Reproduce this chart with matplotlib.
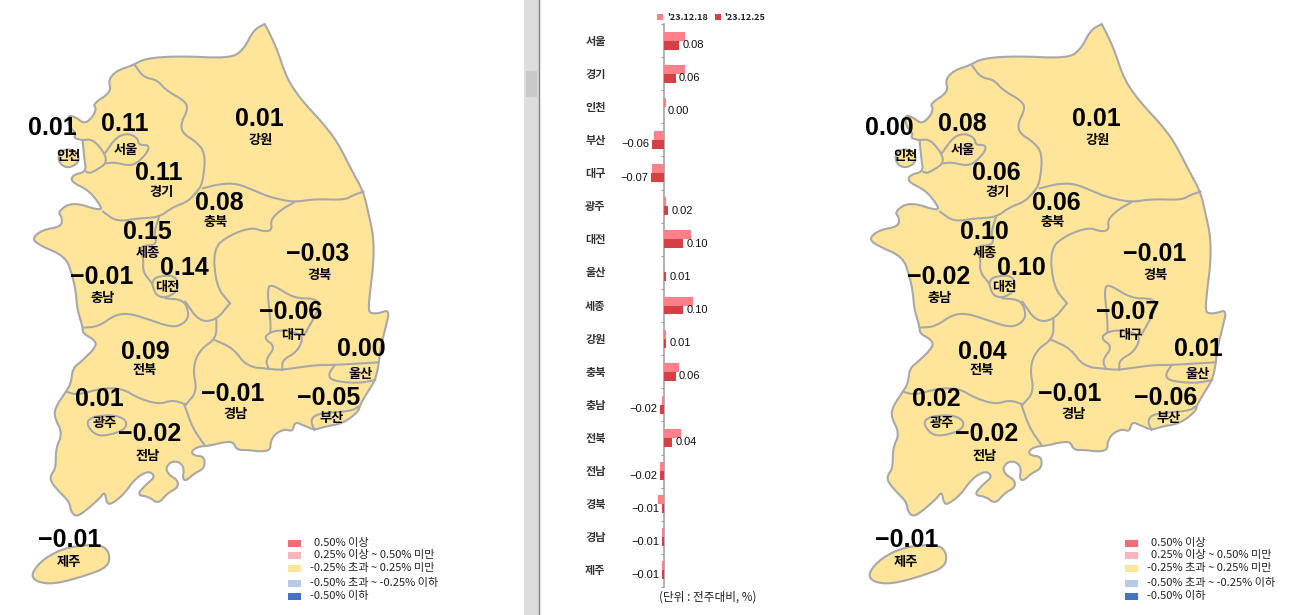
import numpy as np
import matplotlib
matplotlib.use("Agg")
import matplotlib.pyplot as plt
from matplotlib.patches import Polygon, Rectangle
from matplotlib.transforms import ScaledTranslation

plt.rcParams["font.family"] = ["Noto Sans CJK KR", "DejaVu Sans"]

# bar chart data
CATEGORIES = ["서울", "경기", "인천", "부산", "대구", "광주", "대전", "울산", "세종",
              "강원", "충북", "충남", "전북", "전남", "경북", "경남", "제주"]
WEEK_1218 = [0.11, 0.11, 0.01, -0.05, -0.06, 0.01, 0.14, 0.00, 0.15,
             0.01, 0.08, -0.01, 0.09, -0.02, -0.03, -0.01, -0.01]
WEEK_1225 = [0.08, 0.06, 0.00, -0.06, -0.07, 0.02, 0.10, 0.01, 0.10,
             0.01, 0.06, -0.02, 0.04, -0.02, -0.01, -0.01, -0.01]
SERIES_NAMES = ["'23.12.18", "'23.12.25"]

LEGEND_TEXT = ["0.50% 이상", "0.25% 이상 ~ 0.50% 미만", "-0.25% 초과 ~ 0.25% 미만",
               "-0.50% 초과 ~ -0.25% 이하", "-0.50% 이하"]
LEGEND_COLORS = ["#ee7077", "#f7b6bb", "#ffe599", "#b8c8e8", "#4472c4"]

# map geometry, measured in crop coordinates (see to_px)
EAST = [(783, 72), (783, 72), (783, 72), (800, 105), (820, 150), (845, 225), (870, 270), (905, 315), (960, 375),
        (1000, 430), (1040, 510), (1075, 575), (1090, 640), (1105, 710), (1105, 790),
        (1095, 870), (1090, 925)]
SOUTH = [(1095, 25), (1120, 25), (1153, 14), (1140, 70), (1125, 130), (1120, 180), (1110, 225), (1085, 265),
         (1065, 300), (1060, 320), (1015, 355), (960, 365), (930, 375), (900, 362), (872, 350),
         (865, 380), (845, 372), (815, 385), (800, 410), (800, 435), (770, 440), (735, 435),
         (700, 435), (690, 410), (660, 412), (620, 422), (585, 425), (565, 440), (575, 452),
         (605, 455), (605, 490), (575, 505), (550, 528), (540, 520), (545, 490), (530, 470),
         (505, 470), (490, 490), (500, 510), (525, 525), (527, 547), (495, 565), (468, 597),
         (440, 575), (405, 570), (430, 540), (460, 515), (440, 497), (400, 520), (365, 570),
         (325, 600), (315, 590), (310, 560), (295, 580), (250, 620), (225, 635), (210, 620),
         (205, 590), (175, 560), (150, 530), (150, 510), (165, 490), (165, 430), (185, 385),
         (160, 335), (165, 305), (195, 260), (210, 235), (215, 190), (240, 170), (285, 125),
         (280, 105), (245, 85), (245, 68), (228, 10)]
WEST = [(225, 880), (215, 830), (195, 770), (115, 735), (95, 715), (125, 690), (180, 680),
        (185, 655), (170, 635), (215, 605), (305, 635), (290, 605), (260, 570), (210, 545),
        (215, 525), (255, 515), (250, 480), (245, 430), (245, 420), (218, 415), (225, 400),
        (205, 380), (200, 345), (225, 352), (250, 372), (275, 350), (285, 325), (275, 312),
        (330, 275), (320, 240), (345, 212), (390, 197), (430, 175), (530, 168), (680, 175),
        (720, 150), (750, 90)]
BORDERS_UP = [
    [(400, 197), (425, 232), (465, 240), (490, 270), (550, 305), (555, 330), (535, 370),
     (540, 400), (580, 425), (608, 460), (600, 550), (580, 578)],
    [(600, 565), (650, 552), (700, 550), (760, 575), (800, 592), (870, 607), (930, 597),
     (1020, 600), (1045, 585), (1075, 575)],
    [(305, 635), (345, 665), (410, 655), (470, 652), (510, 622), (555, 605), (580, 578)],
    [(870, 607), (830, 630), (800, 660), (805, 690), (780, 695), (745, 682), (680, 705),
     (630, 745), (640, 860), (680, 910)],
    [(470, 652), (455, 700), (465, 735), (410, 738), (425, 775), (422, 815), (450, 850)],
    [(245, 420), (275, 418), (310, 460), (315, 490), (285, 510), (265, 520), (255, 515)],
    [(310, 460), (345, 410), (380, 400), (408, 415), (410, 435), (440, 435), (438, 455),
     (405, 490), (380, 497), (340, 487), (315, 490)],
    [(450, 850), (460, 830), (520, 825), (530, 870), (490, 895), (460, 885), (450, 850)],
]
BORDERS_LOW = [
    [(245, 68), (290, 65), (340, 30), (380, 25), (430, 40), (510, 68), (545, 55), (560, 30),
     (545, -15), (490, -20)],
    [(548, -10), (590, 50), (640, 45), (680, -5)],
    [(640, 45), (640, 100), (590, 135), (570, 190), (583, 260), (550, 298)],
    [(195, 260), (230, 270), (300, 250), (360, 250), (410, 280), (470, 298), (510, 285), (550, 298)],
    [(545, 298), (570, 370), (605, 420)],
    [(635, 105), (690, 130), (730, 185), (800, 192), (830, 195), (900, 185), (940, 180),
     (990, 180), (1120, 172)],
    [(990, 180), (970, 210), (985, 228), (1060, 235), (1110, 225)],
    [(1060, 305), (1040, 318), (940, 325), (918, 345), (930, 375)],
    [(795, 192), (785, 165), (815, 125), (780, 100), (800, 80), (840, 75), (900, 90),
     (880, 140), (835, 165), (835, 195)],
    [(800, 80), (800, 45), (790, -50), (805, -62), (870, -20), (930, -20), (950, 0), (900, 90)],
]
GWANGJU = [(255, 350), (280, 333), (345, 330), (378, 350), (365, 378), (300, 395), (270, 380)]
JEJU = [(92, 805), (130, 760), (200, 725), (300, 718), (325, 745), (320, 785), (260, 810),
        (160, 838), (105, 830)]
INCHEON_ISLE = [(172, 460), (200, 445), (232, 458), (232, 490), (200, 505), (175, 490)]

# map labels, same order for values and positions
MAP_REGIONS = ["인천", "서울", "경기", "강원", "충북", "세종", "대전", "충남", "경북", "대구",
               "울산", "전북", "경남", "부산", "광주", "전남", "제주"]
MAP_VALUES_1218 = ["0.01", "0.11", "0.11", "0.01", "0.08", "0.15", "0.14", "-0.01", "-0.03", "-0.06",
                   "0.00", "0.09", "-0.01", "-0.05", "0.01", "-0.02", "-0.01"]
MAP_VALUES_1225 = ["0.00", "0.08", "0.06", "0.01", "0.06", "0.10", "0.10", "-0.02", "-0.01", "-0.07",
                   "0.01", "0.04", "-0.01", "-0.06", "0.02", "-0.02", "-0.01"]
VALUE_POS = [(52, 128), (125, 124), (159, 173), (259, 119), (219, 203), (147, 232), (184, 268),
             (102, 277), (318, 254), (291, 312), (361, 349), (145, 352), (233, 394), (329, 398),
             (99, 399), (150, 434), (70, 540)]
NAME_POS = [(68, 156), (126, 150), (161, 192), (261, 140), (216, 222), (148, 253), (167, 287),
            (103, 298), (319, 275), (293, 335), (361, 374), (145, 370), (236, 414), (332, 418),
            (105, 423), (148, 456), (69, 562)]
LEGEND_Y = [543, 555, 568, 583, 596]

FILL = "#ffe599"
EDGE = "#a8a8a8"
MAP_SHIFT = 837
NUM_FONT = "Liberation Sans"


def to_px(points, dx=0, low=False):
    pts = np.array(points, dtype=float)
    pts[:, 0] = pts[:, 0] / 2.958 + dx
    pts[:, 1] = (pts[:, 1] + (915 if low else 0)) / 3
    return pts


def soften(pts, closed=False, rounds=2):
    # corner cutting so the coast does not look like a polygon
    for _ in range(rounds):
        a = pts if closed else pts[:-1]
        b = np.roll(pts, -1, axis=0) if closed else pts[1:]
        q = 0.75 * a + 0.25 * b
        r = 0.25 * a + 0.75 * b
        new = np.empty((len(a) * 2, 2))
        new[0::2], new[1::2] = q, r
        if not closed:
            new = np.vstack([pts[0], new, pts[-1]])
        pts = new
    return pts


def draw_map(ax, values, dx):
    outline = np.vstack([to_px(EAST, dx), to_px(SOUTH, dx, True), to_px(WEST, dx)])
    kw = dict(facecolor=FILL, edgecolor=EDGE, linewidth=1.5, joinstyle="round")
    ax.add_patch(Polygon(soften(outline, True), closed=True, zorder=2, **kw))
    ax.add_patch(Polygon(soften(to_px(JEJU, dx, True), True), closed=True, zorder=2, **kw))
    ax.add_patch(Polygon(soften(to_px(INCHEON_ISLE, dx), True), closed=True, zorder=2, **kw))
    ax.add_patch(Polygon(soften(to_px(GWANGJU, dx, True), True), closed=True, zorder=3, **kw))

    for line in BORDERS_UP:
        pts = soften(to_px(line, dx))
        ax.plot(pts[:, 0], pts[:, 1], color=EDGE, lw=1.5, zorder=3)
    for line in BORDERS_LOW:
        pts = soften(to_px(line, dx, True))
        ax.plot(pts[:, 0], pts[:, 1], color=EDGE, lw=1.5, zorder=3)

    for name, val, vp, np_ in zip(MAP_REGIONS, values, VALUE_POS, NAME_POS):
        ax.text(vp[0] + dx, vp[1], val.replace("-", "\u2212"), family=NUM_FONT, weight="bold",
                fontsize=18, ha="center", va="center", color="black", zorder=5)
        ax.text(np_[0] + dx, np_[1], name, fontsize=9.5, weight="bold",
                ha="center", va="center", color="black", zorder=5)

    for y, label, color in zip(LEGEND_Y, LEGEND_TEXT, LEGEND_COLORS):
        ax.add_patch(Rectangle((288 + dx, y - 3.5), 13, 7, facecolor=color, edgecolor="none", zorder=2))
        tx = 314 if label.startswith("0") else 310
        ax.text(tx + dx, y, label, fontsize=8, weight="medium", ha="left", va="center", color="#222222")


fig = plt.figure(figsize=(13.03, 6.15), dpi=100, facecolor="white")

# full-figure layer in pixel units for the maps and the window chrome
bg = fig.add_axes([0, 0, 1, 1])
bg.set_xlim(0, 1303)
bg.set_ylim(615, 0)
bg.axis("off")

bg.add_patch(Rectangle((524, 0), 15, 615, facecolor="#dcdcdc", edgecolor="none"))
bg.add_patch(Rectangle((526, 71), 11, 26, facecolor="#c8c8c8", edgecolor="none"))
bg.plot([539, 539], [0, 615], color="#808080", lw=1)

draw_map(bg, MAP_VALUES_1218, 0)
draw_map(bg, MAP_VALUES_1225, MAP_SHIFT)

# middle bar chart
W, H = 1303.0, 615.0
left, right, top, bottom = 600.0, 780.0, 24.0, 587.0
ax = fig.add_axes([left / W, 1 - bottom / H, (right - left) / W, (bottom - top) / H])
ax.patch.set_alpha(0)
ax.set_xlim((left - 664) / 192, (right - 664) / 192)
ax.set_ylim(len(CATEGORIES) - 0.5, -0.5)

y = np.arange(len(CATEGORIES))
h = 0.27
ax.barh(y - h / 2, WEEK_1218, h, color="#ff8088", edgecolor="none", zorder=3)
ax.barh(y + h / 2, WEEK_1225, h, color="#d64045", edgecolor="none", zorder=3)

for yi, v in zip(y, WEEK_1225):
    if v < 0:
        ax.annotate(f"{v:.2f}".replace("-", "\u2212"), (v, yi + h / 2), xytext=(-2, 0), textcoords="offset points",
                    ha="right", va="center", family=NUM_FONT, fontsize=8, color="#111111")
    else:
        ax.annotate(f"{v:.2f}", (v, yi + h / 2), xytext=(2.5, 0), textcoords="offset points",
                    ha="left", va="center", family=NUM_FONT, fontsize=8, color="#111111")

for name in ["top", "right", "bottom"]:
    ax.spines[name].set_visible(False)
ax.spines["left"].set_position(("data", 0))
ax.spines["left"].set_color("#b4b4b4")
ax.spines["left"].set_linewidth(1.4)
ax.spines["left"].set_zorder(1)
ax.set_xticks([])
ax.set_yticks(y)
ax.set_yticklabels(CATEGORIES, fontsize=8, weight="bold", color="#333333")
ax.set_yticks(np.arange(len(CATEGORIES) + 1) - 0.5, minor=True)
ax.tick_params(axis="y", which="major", length=0, pad=42)
ax.tick_params(axis="y", which="minor", length=2.5, width=0.8, color="#999999")
for label in ax.get_yticklabels():
    label.set_transform(label.get_transform() + ScaledTranslation(0, 1 / 100, fig.dpi_scale_trans))

# small legend above the bars, unit note below
bg.add_patch(Rectangle((657, 14), 6, 6, facecolor="#ff8088", edgecolor="none"))
bg.text(667, 17, SERIES_NAMES[0], fontsize=6.5, weight="bold", va="center", color="#222222")
bg.add_patch(Rectangle((715, 14), 6, 6, facecolor="#d64045", edgecolor="none"))
bg.text(724, 17, SERIES_NAMES[1], fontsize=6.5, weight="bold", va="center", color="#222222")
bg.text(708, 597, "(단위 : 전주대비, %)", fontsize=8.4, weight="medium", ha="center", va="center", color="#222222")

fig.savefig("out.png", dpi=100)
